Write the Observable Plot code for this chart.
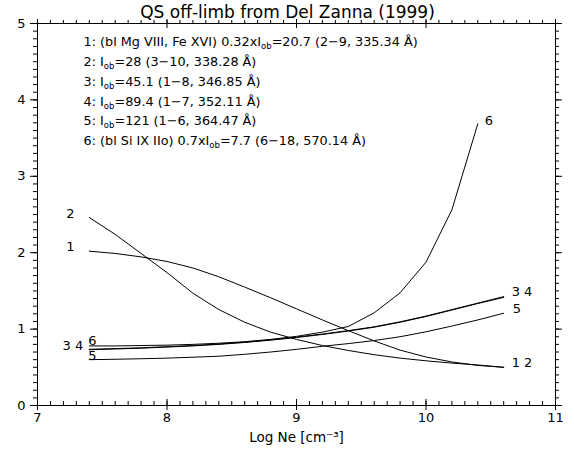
<!DOCTYPE html>
<html>
<head>
<meta charset="utf-8">
<script src="https://cdn.jsdelivr.net/npm/d3@7"></script>
<script src="https://cdn.jsdelivr.net/npm/@observablehq/plot@0.6"></script>
<style>
  html, body { margin: 0; padding: 0; background: #fff; }
  #chart svg { display: block; }
</style>
</head>
<body>
<div id="chart"></div>
<script>
// Density grid (log Ne, cm^-3) on which the line ratios were computed
const logNe = [7.4, 7.6, 7.8, 8.0, 8.2, 8.4, 8.6, 8.8, 9.0, 9.2, 9.4, 9.6, 9.8, 10.0, 10.2, 10.4, 10.6];

// Ratio curves, one array per line
const ratio1 = [2.02, 1.99, 1.945, 1.885, 1.80, 1.685, 1.55, 1.41, 1.265, 1.12, 0.98, 0.845, 0.725, 0.635, 0.57, 0.525, 0.50];
const ratio2 = [2.46, 2.24, 1.99, 1.74, 1.47, 1.256, 1.09, 0.96, 0.865, 0.785, 0.72, 0.665, 0.62, 0.585, 0.555, 0.53, 0.50];
const ratio3 = [0.73, 0.74, 0.75, 0.765, 0.78, 0.80, 0.825, 0.855, 0.89, 0.93, 0.975, 1.025, 1.09, 1.165, 1.25, 1.335, 1.415];
const ratio4 = [0.735, 0.745, 0.755, 0.77, 0.785, 0.805, 0.83, 0.86, 0.895, 0.935, 0.98, 1.03, 1.095, 1.17, 1.255, 1.34, 1.425];
const ratio5 = [0.60, 0.605, 0.612, 0.62, 0.632, 0.645, 0.67, 0.70, 0.735, 0.775, 0.81, 0.85, 0.90, 0.965, 1.04, 1.12, 1.208];
const ratio6 = [0.78, 0.78, 0.785, 0.79, 0.80, 0.815, 0.835, 0.865, 0.905, 0.96, 1.034, 1.213, 1.475, 1.876, 2.561, 3.687];

const seriesNames = ["1", "2", "3", "4", "5", "6"];
const seriesValues = [ratio1, ratio2, ratio3, ratio4, ratio5, ratio6];

// Legend lines; _{...} marks a subscript
const legendLines = [
  "1: (bl Mg VIII, Fe XVI) 0.32xI_{ob}=20.7 (2\u22129, 335.34 \u00C5)",
  "2: I_{ob}=28 (3\u221210, 338.28 \u00C5)",
  "3: I_{ob}=45.1 (1\u22128, 346.85 \u00C5)",
  "4: I_{ob}=89.4 (1\u22127, 352.11 \u00C5)",
  "5: I_{ob}=121 (1\u22126, 364.47 \u00C5)",
  "6: (bl Si IX IIo) 0.7xI_{ob}=7.7 (6\u221218, 570.14 \u00C5)"
];

const titleText = "QS off-limb from Del Zanna (1999)";
const xLabel = "Log Ne [cm\u207B\u00B3]";
const xTickLabels = [7, 8, 9, 10, 11];
const yTickLabels = [0, 1, 2, 3, 4, 5];

// Tidy rows for the line mark
const rows = [];
seriesValues.forEach((vals, k) => {
  vals.forEach((v, i) => rows.push({series: seriesNames[k], logNe: logNe[i], ratio: v}));
});

const first = (k) => ({x: logNe[0], y: seriesValues[k][0]});
const last = (k) => ({x: logNe[seriesValues[k].length - 1], y: seriesValues[k][seriesValues[k].length - 1]});

// Curve-end annotations
const leftLabels = [
  {...first(0), text: "1", dx: -19, dy: -4, anchor: "middle"},
  {...first(1), text: "2", dx: -19, dy: -4, anchor: "middle"},
  {...first(2), text: "3 4", dx: -6, dy: -4, anchor: "end"},
  {...first(5), text: "6", dx: 3, dy: -5, anchor: "middle"},
  {...first(4), text: "5", dx: 3, dy: -4, anchor: "middle"}
];
const rightLabels = [
  {...last(3), text: "3 4", dx: 8, dy: -5, anchor: "start"},
  {...last(4), text: "5", dx: 9, dy: -4, anchor: "start"},
  {...last(0), text: "1 2", dx: 8, dy: -4, anchor: "start"},
  {...last(5), text: "6", dx: 11, dy: -3, anchor: "middle"}
];

const xMinor = d3.range(70, 111).map(d => d / 10);
const yMinor = d3.range(0, 51).map(d => d / 10);

function annot(list) {
  return list.map(d => Plot.text([d], {x: "x", y: "y", text: "text", textAnchor: d.anchor, dx: d.dx, dy: d.dy, fontSize: 13}));
}

const chart = Plot.plot({
  width: 574,
  height: 452,
  marginLeft: 37,
  marginRight: 19,
  marginTop: 23,
  marginBottom: 47,
  x: {domain: [7, 11], axis: null},
  y: {domain: [0, 5], axis: null},
  style: {fontFamily: "'DejaVu Sans', sans-serif", fontSize: "13px", color: "black", background: "white"},
  marks: [
    // bottom ticks (point inward)
    Plot.ruleX(xMinor, {x: d => d, y1: 0, y2: 0, insetTop: -4, stroke: "black"}),
    Plot.ruleX(xTickLabels, {x: d => d, y1: 0, y2: 0, insetTop: -6, insetBottom: -5, stroke: "black"}),
    // top ticks
    Plot.ruleX(xMinor, {x: d => d, y1: 5, y2: 5, insetTop: -3, stroke: "black"}),
    Plot.ruleX(xTickLabels, {x: d => d, y1: 5, y2: 5, insetTop: -4, insetBottom: -5, stroke: "black"}),
    // left ticks
    Plot.ruleY(yMinor, {y: d => d, x1: 7, x2: 7, insetLeft: -4, stroke: "black"}),
    Plot.ruleY(yTickLabels, {y: d => d, x1: 7, x2: 7, insetLeft: -7, stroke: "black"}),
    // right ticks
    Plot.ruleY(yMinor, {y: d => d, x1: 11, x2: 11, insetRight: -4, stroke: "black"}),
    Plot.ruleY(yTickLabels, {y: d => d, x1: 11, x2: 11, insetRight: -7, stroke: "black"}),
    Plot.frame({stroke: "black"}),
    // tick labels
    Plot.text(xTickLabels, {x: d => d, y: 0, text: d => String(d), dy: 12, fontSize: 13}),
    Plot.text(yTickLabels, {x: 7, y: d => d, text: d => String(d), dx: -12, textAnchor: "end", fontSize: 13}),
    // ratio curves
    Plot.line(rows, {x: "logNe", y: "ratio", z: "series", stroke: "black", strokeWidth: 1}),
    ...annot(leftLabels),
    ...annot(rightLabels),
    // legend block
    Plot.text([legendLines.join("\n")], {frameAnchor: "top-left", dx: 46, dy: 9, lineAnchor: "top", textAnchor: "start", lineHeight: 1.54, fontSize: 12.8}),
    // title and axis label
    Plot.text([titleText], {frameAnchor: "top", lineAnchor: "middle", dx: -9, dy: -10.5, fontSize: 17}),
    Plot.text([xLabel], {frameAnchor: "bottom", lineAnchor: "middle", dy: 32, fontSize: 13.5})
  ]
});

// Turn _{...} runs into subscript tspans
const NS = "http://www.w3.org/2000/svg";
chart.querySelectorAll("text, tspan").forEach(el => {
  if (el.children.length) return;
  const s = el.textContent;
  if (!s.includes("_{")) return;
  const parts = s.split(/_\{([^}]*)\}/);
  el.textContent = "";
  parts.forEach((p, i) => {
    const t = document.createElementNS(NS, "tspan");
    t.textContent = p;
    if (i % 2 === 1) {
      t.setAttribute("font-size", "8.5px");
      t.setAttribute("dy", "3");
    } else if (i > 0) {
      t.setAttribute("dy", "-3");
    }
    el.appendChild(t);
  });
});

document.getElementById("chart").appendChild(chart);
</script>
</body>
</html>
